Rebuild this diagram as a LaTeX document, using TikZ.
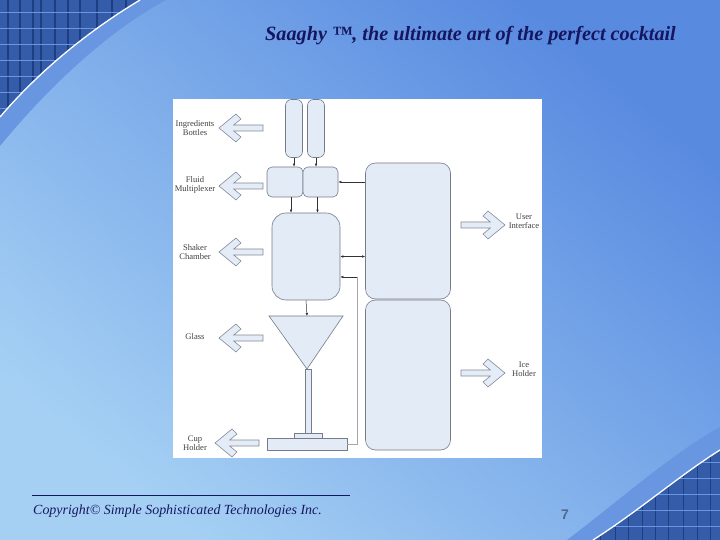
\documentclass[tikz,border=0pt]{standalone}
\usepackage{fontspec}
\setmainfont{Liberation Serif}
\newfontfamily\numfont{Liberation Sans}
\usetikzlibrary{arrows.meta}

\definecolor{bgdark}{RGB}{88,138,224}
\definecolor{bglight}{RGB}{165,208,244}
\definecolor{griddark}{RGB}{52,92,168}
\definecolor{gridline}{RGB}{30,62,130}
\definecolor{bandblue}{RGB}{104,150,224}
\definecolor{navy}{RGB}{22,22,96}
\definecolor{boxfill}{RGB}{227,235,246}
\definecolor{boxline}{RGB}{118,124,138}
\definecolor{arrowfill}{RGB}{228,236,247}
\definecolor{arrowline}{RGB}{132,138,150}
\definecolor{numgray}{RGB}{80,104,140}

\begin{document}
\begin{tikzpicture}[x=1bp,y=-1bp,
    box/.style={draw=boxline, fill=boxfill, line width=.6bp, inner sep=0pt, rounded corners=#1},
    box/.default=4bp,
    flow/.style={-{Latex[length=3bp,width=2.5bp]}, line width=.5bp, black!80},
    lbl/.style={font=\fontsize{8.6}{9.4}\selectfont, text=black!75, align=center, inner sep=0pt},
    arrowbody/.style={draw=arrowline, fill=arrowfill, line width=.6bp},
    fatarrow/.pic={\draw[arrowbody] (0,0) -- (17,-14) -- (22,-9) -- (14.7,-3) -- (44,-3)
                    -- (44,3) -- (14.7,3) -- (22,9) -- (17,14) -- cycle;},
  ]
\useasboundingbox (0,0) rectangle (720,540);

%-------------------------------------------- Slide background
\shade[shading=axis, top color=bgdark, bottom color=bglight, shading angle=-40] (0,0) rectangle (720,540);
% Top left corner
\fill[bandblue] (0,0) -- (0,146) .. controls (50,85) and (110,30) .. (166,0) -- cycle;
\begin{scope}
  \clip (0,0) -- (0,117) .. controls (40,70) and (90,30) .. (140,0) -- cycle;
  \fill[griddark] (0,0) rectangle (140,117);
  \foreach \gx in {8,20,33,41,55,68,80,97,112,126}
    \draw[gridline, line width=1.2bp] (\gx,0) -- (\gx,117);
  \foreach \gy in {12,28,44,60,76,92,108}
    \draw[bandblue, line width=.5bp] (0,\gy) -- (140,\gy);
\end{scope}
\draw[white, line width=1.3bp] (0,117) .. controls (40,70) and (90,30) .. (140,0);
% Bottom right corner
\fill[bandblue] (720,540) -- (567,540) .. controls (620,500) and (670,455) .. (720,427) -- cycle;
\begin{scope}
  \clip (720,540) -- (593,540) .. controls (640,510) and (680,475) .. (720,450) -- cycle;
  \fill[griddark] (593,450) rectangle (720,540);
  \foreach \gx in {600,615,628,642,655,668,683,697,710}
    \draw[gridline, line width=1bp] (\gx,450) -- (\gx,540);
  \foreach \gy in {462,478,494,510,526}
    \draw[bandblue, line width=.5bp] (593,\gy) -- (720,\gy);
\end{scope}
\draw[white, line width=1.3bp] (593,540) .. controls (640,510) and (680,475) .. (720,450);

%-------------------------------------------- Title and footer
\node[font=\fontsize{20.3}{24}\selectfont\bfseries\itshape, text=navy] (title) at (470.5,36)
  {Saaghy ™, the ultimate art of the perfect cocktail};
\draw[navy, line width=.8bp] (32,495) -- (350,495);
\node[anchor=base west, inner sep=0pt, font=\fontsize{14}{16}\selectfont\itshape, text=navy] (copyright) at (33,514)
  {Copyright© Simple Sophisticated Technologies Inc.};
\node[anchor=base, inner sep=0pt, font=\numfont\fontsize{14}{16}\selectfont\bfseries, text=numgray] (pagenum) at (565,519) {7};

%-------------------------------------------- Diagram panel
\fill[white] (173,99) rectangle (542,458);

% Ingredients bottles
\node[box=6bp, minimum width=17bp, minimum height=58bp] (bottleA) at (294,128.5) {};
\node[box=6bp, minimum width=17bp, minimum height=58bp] (bottleB) at (316,128.5) {};
% Fluid multiplexer
\node[box=5bp, minimum width=36bp, minimum height=30bp] (muxA) at (285,182) {};
\node[box=5bp, minimum width=35bp, minimum height=30bp] (muxB) at (320.5,182) {};
% Shaker chamber
\node[box=14bp, minimum width=68bp, minimum height=87bp] (shaker) at (306,256.5) {};
% Glass
\draw[draw=boxline, fill=boxfill, line width=.6bp] (269,316) -- (343,316) -- (307,369) -- cycle;
\coordinate (glasstop) at (307,316);
\node[draw=boxline, fill=boxfill, line width=.6bp, inner sep=0pt, minimum width=6bp, minimum height=64bp] (stem) at (308,401) {};
% Cup holder
\node[draw=boxline, fill=boxfill, line width=.6bp, inner sep=0pt, minimum width=28bp, minimum height=5bp] (plate) at (308,435.5) {};
\node[draw=boxline, fill=boxfill, line width=.6bp, inner sep=0pt, minimum width=80bp, minimum height=12bp] (cupholder) at (307,444) {};
% User interface and ice holder
\node[box=10bp, minimum width=85bp, minimum height=136bp] (uibox) at (408,231) {};
\node[box=10bp, minimum width=85bp, minimum height=150bp] (icebox) at (408,375) {};

%-------------------------------------------- Flows
\draw[flow] (bottleA.south) -- (bottleA.south |- muxA.north);
\draw[flow] (bottleB.south) -- (bottleB.south |- muxB.north);
\draw[flow] ([xshift=6bp]muxA.south) -- ([xshift=6bp]muxA.south |- shaker.north);
\draw[flow] ([xshift=-3bp]muxB.south) -- ([xshift=-3bp]muxB.south |- shaker.north);
\draw[flow] (uibox.west |- muxB.east) -- (muxB.east);
\draw[flow, {Latex[length=3bp,width=2.5bp]}-{Latex[length=3bp,width=2.5bp]}] (shaker.east) -- (shaker.east -| uibox.west);
\draw[black!35, line width=.5bp] (cupholder.east) -- ++(10,0) coordinate (cupturn) -- (cupturn |- 0,277);
\draw[flow] (cupturn |- 0,277) -- (shaker.east |- 0,277);
\draw[flow] (shaker.south) -- (glasstop);

%-------------------------------------------- Side arrows and labels
\pic at (219,128) {fatarrow};
\node[lbl] (lblbottles) at (195,128) {Ingredients\\Bottles};
\pic at (219,186) {fatarrow};
\node[lbl] (lblmux) at (195,185) {Fluid\\Multiplexer};
\pic at (219,252) {fatarrow};
\node[lbl] (lblshaker) at (195,252) {Shaker\\Chamber};
\pic at (219,338) {fatarrow};
\node[lbl] (lblglass) at (195,337) {Glass};
\pic at (215,443) {fatarrow};
\node[lbl] (lblcup) at (195,443) {Cup\\Holder};
\pic[rotate=180] at (505,225) {fatarrow};
\node[lbl] (lblui) at (524,221) {User\\Interface};
\pic[rotate=180] at (505,373) {fatarrow};
\node[lbl] (lblice) at (524,369) {Ice\\Holder};

\end{tikzpicture}
\end{document}
